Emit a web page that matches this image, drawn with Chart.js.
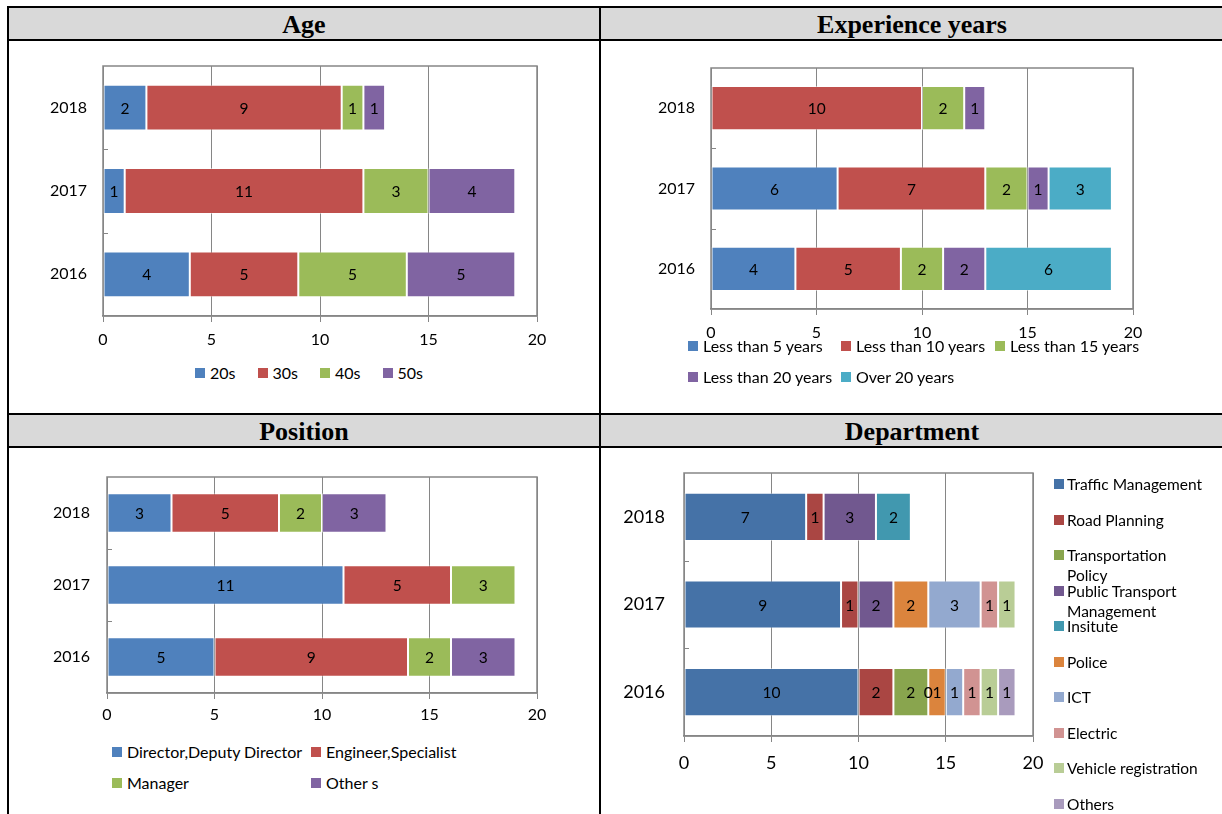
<!DOCTYPE html>
<html>
<head>
<meta charset="utf-8">
<script src="https://cdn.jsdelivr.net/npm/chart.js@4.4.1/dist/chart.umd.min.js"></script>
<style>
  body { margin: 0; background: #fff; width: 1222px; height: 814px; overflow: hidden; position: relative; font-family: Lato, "Open Sans", sans-serif; }
  .hd { position: absolute; background: #d9d9d9; font: bold 26px "Liberation Serif", "Times New Roman", serif; text-align: center; color: #000; height: 31px; line-height: 33px; }
  .ln { position: absolute; background: #000; }
  canvas { position: absolute; }
  .lg { position: absolute; font-size: 16px; color: #000; }
  .it { display: flex; align-items: center; white-space: nowrap; height: 18px; line-height: 18px; }
  .bx { width: 10px; height: 10px; margin-right: 5px; flex: none; }
  #lgAge { left: 195px; top: 364px; display: flex; gap: 22px; }
  #lgExp { left: 688px; top: 337px; display: grid; grid-template-columns: 153px 154px auto; row-gap: 13px; }
  #lgPos { left: 112px; top: 743px; display: grid; grid-template-columns: 199px auto; row-gap: 13px; }
  #lgDep { left: 1054px; top: 474px; font-size: 15.5px; }
  #lgDep .it { height: 35.5px; align-items: flex-start; line-height: 20px; white-space: normal; }
  #lgDep .bx { margin-top: 5px; margin-right: 3px; }
  #lgDep span { width: 140px; }
</style>
</head>
<body>
<div class="hd" style="left:9px;top:8px;width:590px;">Age</div>
<div class="hd" style="left:601px;top:8px;width:622px;">Experience years</div>
<div class="hd" style="left:9px;top:415px;width:590px;">Position</div>
<div class="hd" style="left:601px;top:415px;width:622px;">Department</div>

<div class="ln" style="left:7px;top:6px;width:1220px;height:2px;"></div>
<div class="ln" style="left:7px;top:39px;width:1220px;height:2px;"></div>
<div class="ln" style="left:7px;top:413px;width:1220px;height:2px;"></div>
<div class="ln" style="left:7px;top:446px;width:1220px;height:2px;"></div>
<div class="ln" style="left:7px;top:6px;width:2px;height:820px;"></div>
<div class="ln" style="left:599px;top:6px;width:2px;height:820px;"></div>

<canvas id="cAge"></canvas>
<canvas id="cExp"></canvas>
<canvas id="cPos"></canvas>
<canvas id="cDep"></canvas>

<div class="lg" id="lgAge"></div>
<div class="lg" id="lgExp"></div>
<div class="lg" id="lgPos"></div>
<div class="lg" id="lgDep"></div>

<script>
  // categories, top to bottom
  const years = ['2018', '2017', '2016'];

  // Age
  const ageNames = ['20s', '30s', '40s', '50s'];
  const age20s = [2, 1, 4];
  const age30s = [9, 11, 5];
  const age40s = [1, 3, 5];
  const age50s = [1, 4, 5];

  // Experience years
  const expNames = ['Less than 5 years', 'Less than 10 years', 'Less than 15 years', 'Less than 20 years', 'Over 20 years'];
  const expLt5 = [null, 6, 4];
  const expLt10 = [10, 7, 5];
  const expLt15 = [2, 2, 2];
  const expLt20 = [1, 1, 2];
  const expOver20 = [null, 3, 6];

  // Position
  const posNames = ['Director,Deputy Director', 'Engineer,Specialist', 'Manager', 'Other s'];
  const posDirector = [3, 11, 5];
  const posEngineer = [5, 5, 9];
  const posManager = [2, 3, 2];
  const posOthers = [3, null, 3];

  // Department
  const depNames = ['Traffic Management', 'Road Planning', 'Transportation Policy', 'Public Transport Management',
    'Insitute', 'Police', 'ICT', 'Electric', 'Vehicle registration', 'Others'];
  const depTraffic = [7, 9, 10];
  const depRoad = [1, 1, 2];
  const depTransPolicy = [null, null, 2];
  const depPublicTransport = [3, 2, 0];
  const depInsitute = [2, null, null];
  const depPolice = [null, 2, 1];
  const depICT = [null, 3, 1];
  const depElectric = [null, 1, 1];
  const depVehicle = [null, 1, 1];
  const depOthers = [null, null, 1];

  const xTicks = [0, 5, 10, 15, 20];

  // colours
  const officeColors = ['#4f81bd', '#c0504d', '#9bbb59', '#8064a2', '#4bacc6'];
  const depColors = ['#4572a7', '#aa4643', '#89a54e', '#71588f', '#4198af', '#db843d', '#93a9cf', '#d19392', '#b9cd96', '#a99bbd'];

  Chart.defaults.font.family = 'Lato, "Open Sans", sans-serif';
  Chart.defaults.color = '#000';

  // gray plot frame + small inner marks between categories
  const framePlugin = {
    id: 'frame',
    beforeDatasetsDraw(chart) {
      const a = chart.chartArea, ctx = chart.ctx, y = chart.scales.y;
      ctx.save();
      ctx.strokeStyle = '#868686';
      ctx.lineWidth = 1.5;
      ctx.strokeRect(a.left, a.top, a.right - a.left, a.bottom - a.top);
      ctx.lineWidth = 1;
      for (let i = 0; i < years.length - 1; i++) {
        const yy = Math.round((y.getPixelForValue(i) + y.getPixelForValue(i + 1)) / 2) + 0.5;
        ctx.beginPath();
        ctx.moveTo(a.left, yy);
        ctx.lineTo(a.left + 5, yy);
        ctx.stroke();
      }
      ctx.restore();
    }
  };

  // value written in the middle of each segment
  const valuePlugin = {
    id: 'values',
    afterDatasetsDraw(chart) {
      const ctx = chart.ctx;
      ctx.save();
      ctx.fillStyle = '#000';
      ctx.font = '15.5px Lato, "Open Sans", sans-serif';
      ctx.textAlign = 'center';
      ctx.textBaseline = 'middle';
      chart.data.datasets.forEach((ds, i) => {
        chart.getDatasetMeta(i).data.forEach((bar, j) => {
          const v = ds.data[j];
          if (v === null || v === undefined) return;
          const p = bar.getProps(['x', 'y', 'base'], true);
          ctx.fillText(String(v), (p.x + p.base) / 2, p.y + 1);
        });
      });
      ctx.restore();
    }
  };

  function barChart(id, area, names, series, colors, o) {
    const cv = document.getElementById(id);
    const padTop = 10, padRight = 24;
    cv.width = o.yw + (area.r - area.l) + padRight;
    cv.height = padTop + (area.b - area.t) + o.xh;
    cv.style.left = (area.l - o.yw) + 'px';
    cv.style.top = (area.t - padTop) + 'px';
    return new Chart(cv, {
      type: 'bar',
      data: {
        labels: years,
        datasets: series.map((d, i) => ({
          label: names[i],
          data: d,
          backgroundColor: colors[i],
          borderColor: 'rgba(255,255,255,0.45)',
          borderWidth: 1,
          borderSkipped: false,
          categoryPercentage: 1,
          barPercentage: 0.55
        }))
      },
      options: {
        indexAxis: 'y',
        responsive: false,
        animation: false,
        layout: { padding: { top: padTop, right: padRight, left: 0, bottom: 0 } },
        plugins: { legend: { display: false }, tooltip: { enabled: false } },
        scales: {
          x: {
            stacked: true, min: xTicks[0], max: xTicks[xTicks.length - 1],
            afterBuildTicks: s => { s.ticks = xTicks.map(v => ({ value: v })); },
            ticks: { color: '#000', font: { size: o.fs }, padding: o.xp, maxRotation: 0 },
            grid: { color: '#868686', tickLength: 6, tickColor: '#868686' },
            border: { color: '#868686', width: 1.5 },
            afterFit: s => { s.height = o.xh; }
          },
          y: {
            stacked: true,
            ticks: { color: '#000', font: { size: o.fs }, padding: o.yp },
            grid: { display: false, drawTicks: false },
            border: { display: false },
            afterFit: s => { s.width = o.yw; s.paddingTop = 0; s.paddingBottom = 0; }
          }
        }
      },
      plugins: [framePlugin, valuePlugin]
    });
  }

  function legend(id, names, colors) {
    const el = document.getElementById(id);
    names.forEach((n, i) => {
      const it = document.createElement('div');
      it.className = 'it';
      it.innerHTML = '<div class="bx" style="background:' + colors[i] + '"></div><span>' + n + '</span>';
      el.appendChild(it);
    });
  }

  barChart('cAge', { l: 103, r: 537, t: 66, b: 316 }, ageNames,
    [age20s, age30s, age40s, age50s], officeColors, { yw: 70, xh: 40, fs: 16, xp: 8, yp: 16 });
  barChart('cExp', { l: 711, r: 1133, t: 68, b: 309 }, expNames,
    [expLt5, expLt10, expLt15, expLt20, expOver20], officeColors, { yw: 70, xh: 40, fs: 16, xp: 8, yp: 16 });
  barChart('cPos', { l: 107, r: 537, t: 477, b: 693 }, posNames,
    [posDirector, posEngineer, posManager, posOthers], officeColors, { yw: 70, xh: 40, fs: 16, xp: 6, yp: 17 });
  barChart('cDep', { l: 684, r: 1033, t: 473, b: 736 }, depNames,
    [depTraffic, depRoad, depTransPolicy, depPublicTransport, depInsitute, depPolice, depICT, depElectric, depVehicle, depOthers],
    depColors, { yw: 75, xh: 45, fs: 18, xp: 10, yp: 19 });

  legend('lgAge', ageNames, officeColors);
  legend('lgExp', expNames, officeColors);
  legend('lgPos', posNames, officeColors);
  legend('lgDep', depNames, depColors);
</script>
</body>
</html>
